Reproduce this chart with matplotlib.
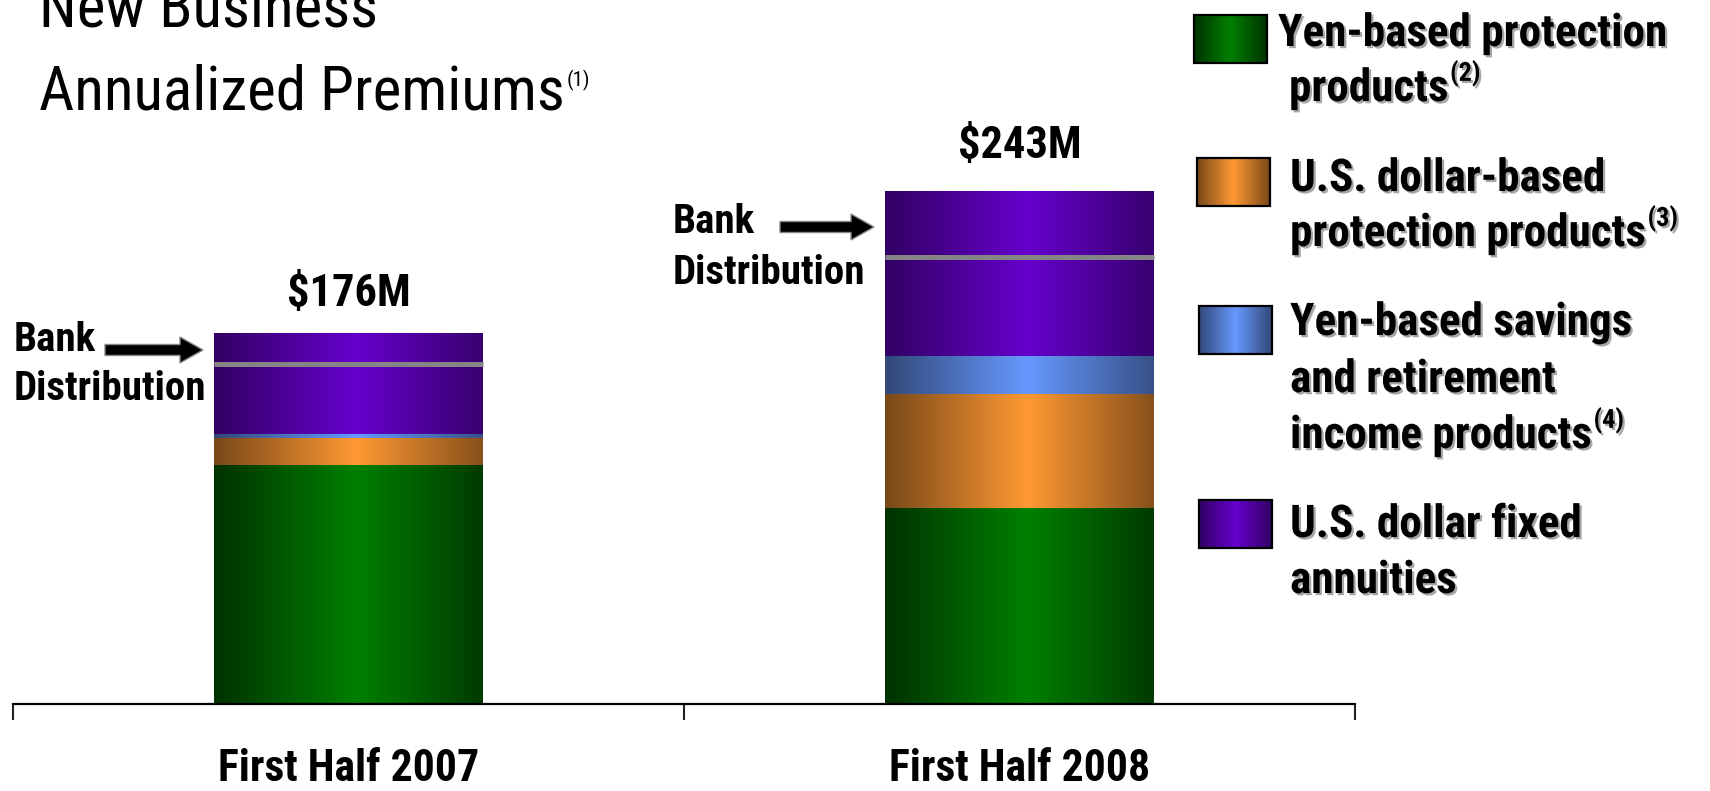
import numpy as np
import matplotlib
matplotlib.use("Agg")
import matplotlib.pyplot as plt
from matplotlib import font_manager as fm
from matplotlib import patheffects as pe
from matplotlib.patches import Rectangle, FancyArrow

# ---------------------------------------------------------------- data (US$ millions)
periods = ["First Half 2007", "First Half 2008"]
yen_protection = [113, 93]
usd_protection = [13, 54]
yen_savings = [2, 18]
usd_fixed_annuities = [48, 78]
bank_distribution = [15, 31]          # top slice of each bar sold through banks
total_labels = ["$176M", "$243M"]

series_labels = [
    ["Yen-based protection", "products"],
    ["U.S. dollar-based", "protection products"],
    ["Yen-based savings", "and retirement", "income products"],
    ["U.S. dollar fixed", "annuities"],
]
series_notes = ["(2)", "(3)", "(4)", None]

# centre colour / edge colour of the horizontal shading of each series
ramps = [
    ((0, 128, 0), (0, 50, 0)),
    ((255, 153, 51), (120, 72, 24)),
    ((102, 153, 255), (50, 72, 120)),
    ((102, 0, 204), (50, 0, 100)),
]


def pick_font(candidates):
    for name in candidates:
        try:
            fm.findfont(fm.FontProperties(family=name), fallback_to_default=False)
            return name
        except Exception:
            continue
    return "DejaVu Sans"


NARROW = pick_font(["Liberation Sans Narrow", "Roboto Condensed",
                    "DejaVu Sans Condensed", "Liberation Sans"])


def ramp_img(centre, edge, peak=0.53, n=256):
    t = np.linspace(0, 1, n)
    s = 1 - np.abs(t - peak) / max(peak, 1 - peak)
    c = np.array(centre) / 255.0
    e = np.array(edge) / 255.0
    rgb = e[None, :] + (c - e)[None, :] * s[:, None]
    return rgb[None, :, :]


W, H = 1710, 791
fig = plt.figure(figsize=(W / 100, H / 100), dpi=100)
fig.patch.set_facecolor("white")

# ---------------------------------------------------------------- stacked bars
ax = fig.add_axes([13 / W, (H - 703.5) / H, (1355 - 13) / W, 632.1 / H])
x = np.arange(len(periods))
stack = [yen_protection, usd_protection, yen_savings, usd_fixed_annuities]
bottom = np.zeros(len(periods))
containers = []
for vals, (centre, edge) in zip(stack, ramps):
    vals = np.asarray(vals, dtype=float)
    bars = ax.bar(x, vals, width=0.40, bottom=bottom, color="none",
                  linewidth=0, zorder=2)
    for b in bars:
        x0, y0 = b.get_x(), b.get_y()
        im = ax.imshow(ramp_img(centre, edge),
                       extent=(x0, x0 + b.get_width(), y0, y0 + b.get_height()),
                       aspect="auto", interpolation="bilinear", zorder=2)
        im.set_clip_path(b)
    containers.append(bars)
    bottom = bottom + vals

totals = bottom
top_bars = containers[-1]

# grey divider marking the bank-distribution slice
for b, tot, bank in zip(top_bars, totals, bank_distribution):
    ax.hlines(tot - bank, b.get_x(), b.get_x() + b.get_width(),
              colors="#858585", linewidth=3.6, zorder=3)

# totals above the bars
for b, tot, lab, off in zip(top_bars, totals, total_labels, [19, 24]):
    ax.annotate(lab, xy=(b.get_x() + b.get_width() / 2, tot),
                xytext=(0, off), textcoords="offset points",
                ha="center", va="baseline", fontsize=32, fontweight="bold",
                family=NARROW, color="black")

ax.set_xlim(-0.5, 1.5)
ax.set_ylim(0, 300)
ax.set_yticks([])
for side in ("left", "right", "top"):
    ax.spines[side].set_visible(False)
ax.spines["bottom"].set_linewidth(1.6)
ax.spines["bottom"].set_color("black")
ax.set_xticks([-0.5, 0.5, 1.5])
ax.set_xticklabels([])
ax.tick_params(axis="x", which="major", length=11.5, width=1.5,
               direction="out", color="#222222")
ax.set_xticks(x, minor=True)
ax.set_xticklabels(periods, minor=True, fontsize=31.5, fontweight="bold",
                   family=NARROW)
ax.tick_params(axis="x", which="minor", length=0, pad=32)
ax.patch.set_visible(False)

# ---------------------------------------------------------------- overlay in pixel units
ov = fig.add_axes([0, 0, 1, 1], zorder=5)
ov.set_xlim(0, W)
ov.set_ylim(H, 0)
ov.axis("off")
ov.patch.set_visible(False)

# title
ov.text(39, 27, "New Business", fontsize=44, family=NARROW, va="baseline")
title2 = ov.text(39, 109, "Annualized Premiums", fontsize=44, family=NARROW,
                 va="baseline")
ov.annotate("(1)", xy=(1, 0), xycoords=title2, xytext=(1, 25),
            textcoords="offset points", fontsize=15, family=NARROW,
            va="baseline", ha="left")

# bank-distribution callouts
callouts = [
    dict(tx=14, b1=351, b2=400, ax0=105, ax1=203, ay=350),
    dict(tx=673, b1=233, b2=284, ax0=780, ax1=874, ay=227),
]
for c in callouts:
    ov.text(c["tx"], c["b1"], "Bank", fontsize=29.5, fontweight="bold",
            family=NARROW, va="baseline")
    ov.text(c["tx"], c["b2"], "Distribution", fontsize=29.5, fontweight="bold",
            family=NARROW, va="baseline")
    ov.add_patch(FancyArrow(c["ax0"], c["ay"], c["ax1"] - c["ax0"], 0,
                            width=11, head_width=26, head_length=23,
                            length_includes_head=True, fc="black",
                            ec="#8a8a8a", lw=1.0, zorder=6))

# legend
shadow = [pe.withSimplePatchShadow(offset=(1.6, -1.6), shadow_rgbFace="#9c9c9c",
                                   alpha=0.9)]
swatches = [(1194, 15), (1197, 158), (1199, 306), (1199, 500)]
baselines = [[46, 101], [191, 246], [335, 392, 448], [537, 593]]
text_x = [[1278, 1289], [1290, 1290], [1290, 1290, 1290], [1290, 1290]]
for (sx, sy), (centre, edge), lines, bls, txs, note in zip(
        swatches, ramps, series_labels, baselines, text_x, series_notes):
    ov.imshow(ramp_img(centre, edge, peak=0.5), extent=(sx, sx + 73, sy + 48, sy),
              aspect="auto", interpolation="bilinear", zorder=6)
    ov.add_patch(Rectangle((sx, sy), 73, 48, fill=False, ec="black",
                           lw=1.6, zorder=7))
    last = None
    for s, bl, tx in zip(lines, bls, txs):
        last = ov.text(tx, bl, s, fontsize=32.5, fontweight="bold", family=NARROW,
                       va="baseline", path_effects=shadow, zorder=8)
    if note:
        ov.annotate(note, xy=(1, 0), xycoords=last, xytext=(1, 21),
                    textcoords="offset points", fontsize=19, fontweight="bold",
                    family=NARROW, va="baseline", ha="left",
                    path_effects=shadow, zorder=8)

ov.set_xlim(0, W)
ov.set_ylim(H, 0)

fig.savefig("out.png", dpi=100, facecolor="white")
